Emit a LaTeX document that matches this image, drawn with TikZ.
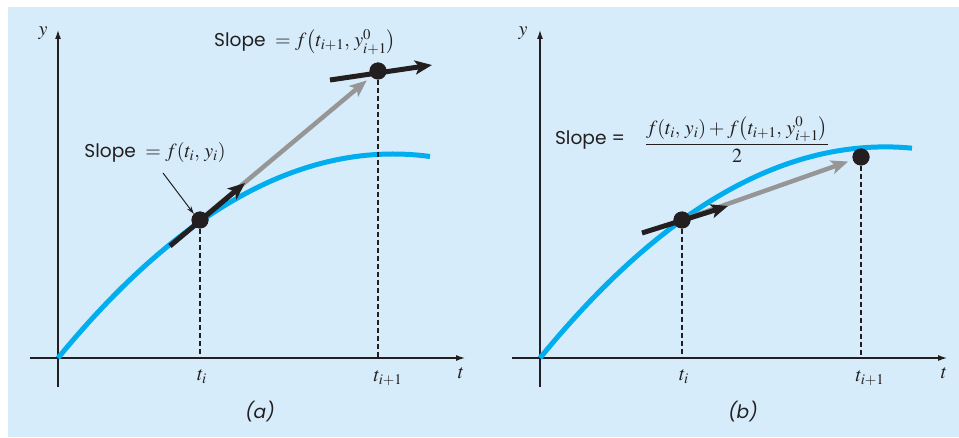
\documentclass[tikz,border=0pt]{standalone}
\usepackage{amsmath}
\usepackage[no-math]{fontspec}
\usepackage{mathptmx}
\setsansfont[Scale=0.93]{Poppins}
\usepackage{xcolor}
\usetikzlibrary{
    arrows.meta,
    positioning
}
\definecolor{panelbg}{RGB}{215,236,250}
\definecolor{curveblue}{RGB}{0,174,239}
\definecolor{predgray}{RGB}{150,150,150}
\definecolor{ink}{RGB}{35,31,32}
\newcommand{\labsize}{\fontsize{20}{24}\selectfont}

\begin{document}
\begin{tikzpicture}[
    x=1pt, y=1pt,
    axis/.style={
        draw=ink,
        line width=1.2pt,
        -{Latex[length=9pt,width=6pt]}
    },
    curve/.style={
        draw=curveblue,
        line width=5pt
    },
    slopearrow/.style={
        draw=ink,
        line width=5pt,
        -{Stealth[length=17pt,width=14pt,inset=4pt]}
    },
    predarrow/.style={
        draw=predgray,
        line width=4.5pt,
        -{Stealth[length=17pt,width=14pt,inset=4pt]}
    },
    guide/.style={
        draw=ink,
        line width=1.1pt,
        dash pattern=on 5pt off 3pt
    },
    pointer/.style={
        draw=ink,
        line width=1pt,
        -{Stealth[length=8pt,width=5pt]}
    },
    dot/.style={
        circle,
        fill=ink,
        minimum size=17pt,
        inner sep=0pt
    },
    lbl/.style={
        font=\sffamily\labsize,
        text=ink,
        inner sep=1pt
    },
    mlbl/.style={
        font=\labsize,
        text=ink,
        inner sep=1pt
    }
]

% page and panel
\useasboundingbox (0,0) rectangle (959,437);
\fill[white] (0,0) rectangle (959,437);
\fill[panelbg] (8,0) rectangle (959,430);

% ---------- (a) ----------
\coordinate (Oa) at (58,79);
\coordinate (tia) at (200,79);
\coordinate (tja) at (378,79);
\coordinate (sa0) at (170,191);
\coordinate (sa1) at (245,254);
\coordinate (qa0) at (330,357);
\coordinate (qa1) at (432,372);

\draw[axis] (30,79) -- (465,79);
\draw[axis] (58,50) -- (58,407);

\draw[curve] plot[domain=0:3.72, samples=60]
    ({58+100*\x}, {79+121.8*\x-18.18*\x*\x});

\node[dot] (Pa1) at (200,217) {};
\node[dot] (Pa2) at (378,366) {};

\draw[guide] (Pa1) -- (tia);
\draw[guide] (Pa2) -- (tja);

\draw[predarrow, shorten >=6pt] (Pa1.center) -- (Pa2);
\draw[slopearrow] (sa0) -- (sa1);
\draw[slopearrow] (qa0) -- (qa1);
\node[dot] at (Pa1) {};
\node[dot] at (Pa2) {};

\node[mlbl] (ya) at (43,404) {$y$};
\node[mlbl] (ta) at (461,64) {$t$};
\node[mlbl] (tial) at (202,60) {$t_i$};
\node[mlbl] (tjal) at (388,59) {$t_{i+1}$};
\node[lbl] (capa) at (260,25) {\itshape (a)};

\node[lbl] (slopea1) at (155,284) {Slope ${}=f(t_i,\, y_i)$};
\node[lbl] (slopea2) at (305,395)
    {Slope ${}=f\bigl(t_{i+1},\, y^{0}_{i+1}\bigr)$};
\draw[pointer] (163,264) -- (Pa1.north west);

% ---------- (b) ----------
\coordinate (Ob) at (540,79);
\coordinate (tib) at (682,79);
\coordinate (tjb) at (861,79);
\coordinate (sb0) at (642,204);
\coordinate (sb1) at (728,231);

\draw[axis] (512,79) -- (947,79);
\draw[axis] (540,50) -- (540,407);

\draw[curve] plot[domain=0:3.72, samples=60]
    ({540+100*\x}, {79+122.36*\x-17.73*\x*\x});

\node[dot] (Pb1) at (682,217) {};
\node[dot] (Pb2) at (861,280) {};

\draw[guide] (Pb1) -- (tib);
\draw[guide] (Pb2) -- (tjb);

\draw[predarrow, shorten >=5pt] (Pb1.center) -- (Pb2);
\draw[slopearrow] (sb0) -- (sb1);
\node[dot] at (Pb1) {};
\node[dot] at (Pb2) {};

\node[mlbl] (yb) at (523,404) {$y$};
\node[mlbl] (tb) at (944,64) {$t$};
\node[mlbl] (tibl) at (684,60) {$t_i$};
\node[mlbl] (tjbl) at (870,59) {$t_{i+1}$};
\node[lbl] (capb) at (743,25) {\itshape (b)};

\node[lbl] (slopeb) at (590,297) {Slope =};
\node[mlbl] (avgb) at (737,297)
    {$\dfrac{f(t_i,\, y_i) + f\bigl(t_{i+1},\, y^{0}_{i+1}\bigr)}{2}$};

\end{tikzpicture}
\end{document}
